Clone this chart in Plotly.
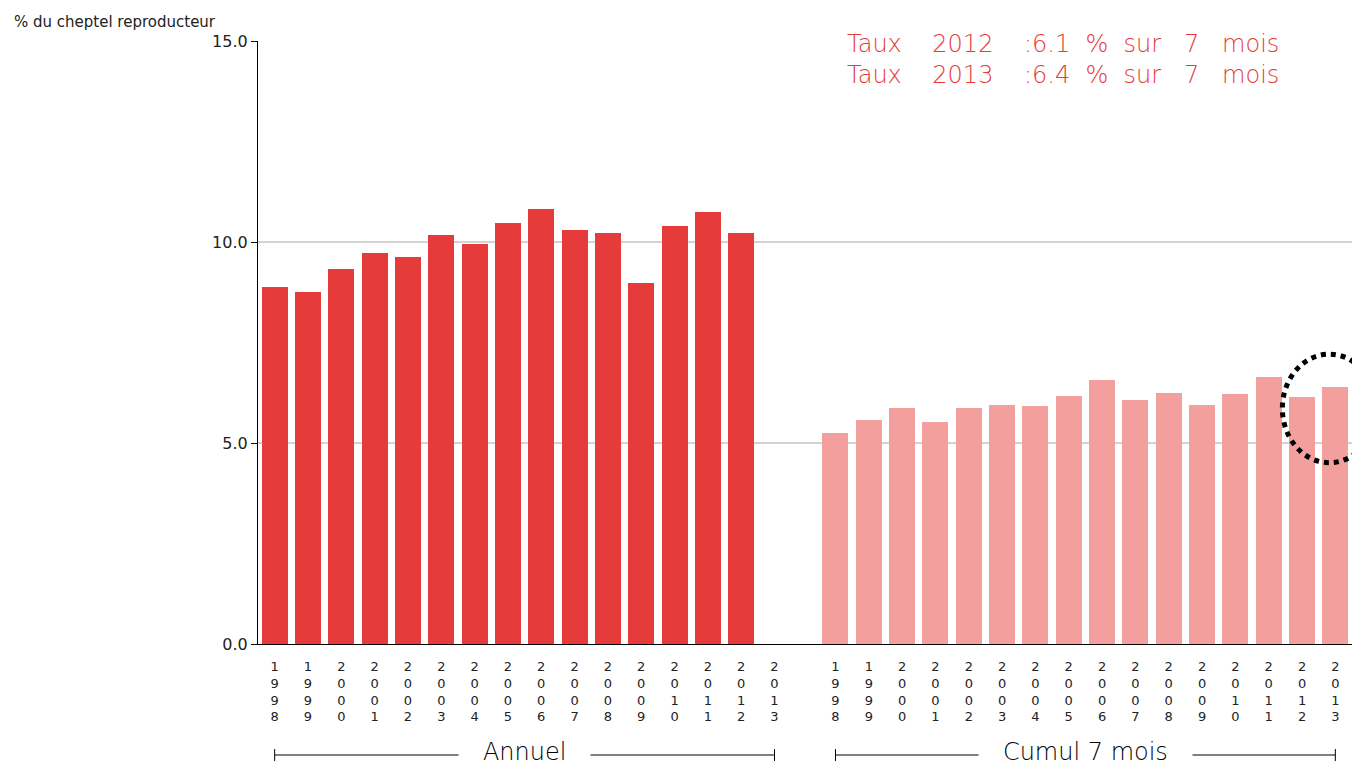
import plotly.graph_objects as go

years = ["1998", "1999", "2000", "2001", "2002", "2003", "2004", "2005",
         "2006", "2007", "2008", "2009", "2010", "2011", "2012", "2013"]
annuel = [8.89, 8.75, 9.34, 9.72, 9.62, 10.17, 9.96, 10.48,
          10.81, 10.30, 10.22, 8.98, 10.41, 10.75, 10.22, None]
cumul7 = [5.25, 5.57, 5.87, 5.52, 5.87, 5.95, 5.92, 6.17,
          6.57, 6.07, 6.24, 5.95, 6.22, 6.65, 6.15, 6.39]
y_ticks = [0, 5, 10, 15]
y_tick_labels = ["0.0", "5.0", "10.0", "15.0"]
group_labels = ["Annuel", "Cumul 7 mois"]
note_lines = ["Taux    2012    :6.1  %  sur   7   mois",
              "Taux    2013    :6.4  %  sur   7   mois"]

FONT = "DejaVu Sans"
LIGHT = 200
RED = "#e53b3a"
PINK = "#f29f9e"

# page body has an 8px margin: figure is placed at (8, 8)
FW, FH = 1352, 760
ML, MT, MR, MB = 250, 33, 8, 124
PW = FW - ML - MR
PH = FH - MT - MB

n = len(years)
offset2 = 16.83
x1 = list(range(n))
x2 = [i + offset2 for i in range(n)]
xmin = -0.5
xmax = x2[-1] + 0.5

fig = go.Figure()
fig.add_trace(go.Bar(x=x1, y=annuel, marker=dict(color=RED, line=dict(width=0)),
                     width=0.78, name="Annuel"))
fig.add_trace(go.Bar(x=x2, y=cumul7, marker=dict(color=PINK, line=dict(width=0)),
                     width=0.78, name="Cumul 7 mois"))

ticklabels = ["<br>".join(list(y)) for y in years]

fig.update_layout(
    width=FW, height=FH,
    margin=dict(l=ML, r=MR, t=MT, b=MB),
    paper_bgcolor="white", plot_bgcolor="white",
    showlegend=False, bargap=0,
    font=dict(family=FONT, color="#111111"),
    xaxis=dict(range=[xmin, xmax], tickvals=x1 + x2, ticktext=ticklabels + ticklabels,
               tickangle=0, showgrid=False, zeroline=False, showline=True,
               linecolor="#000000", linewidth=1.2, ticks="", ticklabelstandoff=10,
               tickfont=dict(size=13, family=FONT, color="#222222")),
    yaxis=dict(range=[0, 15], tickvals=y_ticks, ticktext=y_tick_labels,
               showgrid=False, zeroline=False, showline=True, linecolor="#000000",
               linewidth=1.2, ticks="outside", ticklen=6, tickcolor="#000000",
               tickfont=dict(size=16, family=FONT, color="#222222")),
)

# gridlines at 5 and 10
for v in [5, 10]:
    fig.add_shape(type="line", xref="paper", yref="y", x0=0, x1=1, y0=v, y1=v,
                  line=dict(color="#a8a8a8", width=1), layer="below")


def px_x(px):
    return (px - 8 - ML) / PW


def px_y(py):
    return 1 - (py - 8 - MT) / PH


def dx(v):
    return (v - xmin) / (xmax - xmin)


def dy(v):
    return v / 15.0


# y-axis title
fig.add_annotation(text="% du cheptel reproducteur", xref="paper", yref="paper",
                   x=px_x(12), y=px_y(22), xanchor="left",
                   yanchor="middle", showarrow=False,
                   font=dict(size=15, family=FONT, color="#222222"))

# notes (two lines in one text block)
note_text = "<br>".join(s.replace(" ", "&nbsp;") for s in note_lines)
fig.add_annotation(text=note_text, xref="paper", yref="paper",
                   x=px_x(1281), y=px_y(60),
                   xanchor="right", yanchor="middle", align="right", showarrow=False,
                   font=dict(size=24, family=FONT, color="#e53b3a", weight=LIGHT))

# group brackets
ybr = px_y(755)
ytxt = px_y(751.5)
ytk = 6 / PH
groups = [(x1[0], x1[-1]), (x2[0], x2[-1])]
for (a, b), lab in zip(groups, group_labels):
    fig.add_shape(type="line", xref="x", yref="paper", x0=a, x1=b, y0=ybr, y1=ybr,
                  line=dict(color="#000000", width=1))
    for xx in (a, b):
        fig.add_shape(type="line", xref="x", yref="paper", x0=xx, x1=xx,
                      y0=ybr - ytk, y1=ybr + ytk, line=dict(color="#000000", width=1))
    fig.add_annotation(text="&nbsp;&nbsp;&nbsp;" + lab + "&nbsp;&nbsp;&nbsp;", xref="x",
                       yref="paper", x=(a + b) / 2, y=ytxt, xanchor="center",
                       yanchor="middle", showarrow=False, bgcolor="white",
                       font=dict(size=24, family=FONT, color="#000000", weight=LIGHT))

# dotted circle highlighting the last two cumulative bars (paper ref so it is not clipped)
cx = x2[-1] - 0.18
cy = (cumul7[-1] + cumul7[-2]) / 2 - 0.41
rx, ry = 1.41, 1.35
fig.add_shape(type="circle", xref="paper", yref="paper",
              x0=dx(cx - rx), x1=dx(cx + rx), y0=dy(cy - ry), y1=dy(cy + ry),
              line=dict(color="#000000", width=5, dash="dot"))

fig.write_html("out.html")
